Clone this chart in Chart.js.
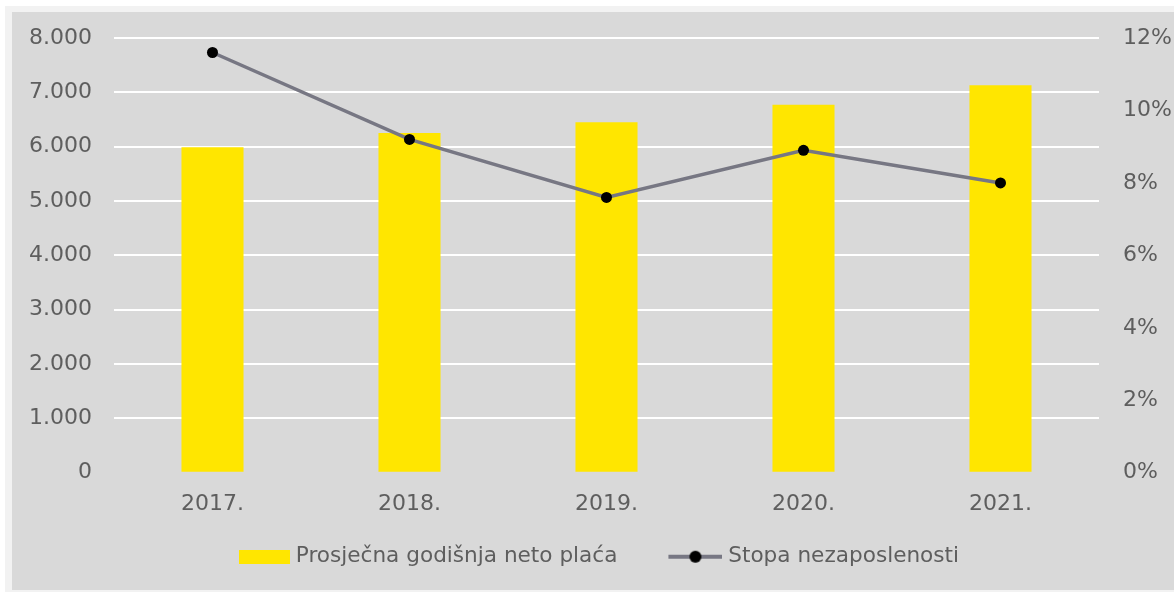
<!DOCTYPE html>
<html>
<head>
<meta charset="utf-8">
<script src="https://cdn.jsdelivr.net/npm/chart.js@4/dist/chart.umd.min.js"></script>
<style>
  html, body { margin: 0; padding: 0; background: #ffffff; }
  #outer { position: absolute; left: 5px; top: 6px; width: 1169px; height: 586px; background: #f2f2f2; }
  #wrap { position: absolute; left: 12px; top: 12px; width: 1162px; height: 578px; background: #d9d9d9; }
</style>
</head>
<body>
<div id="outer"></div>
<div id="wrap"><canvas id="c" width="1162" height="578"></canvas></div>
<script>
const categories = ['2017.', '2018.', '2019.', '2020.', '2021.'];
const salaryValues = [5990, 6250, 6450, 6770, 7130];
const unemploymentValues = [11.6, 9.2, 7.6, 8.9, 8.0];
const salaryLabel = 'Prosječna godišnja neto plaća';
const unemploymentLabel = 'Stopa nezaposlenosti';

const YELLOW = '#FFE600';
const LINEGRAY = '#777783';
const TEXT = '#5e5e5e';
const TICKFONT = { family: '"DejaVu Sans", sans-serif', size: 22 };
const YTICKFONT = { family: '"DejaVu Sans", sans-serif', size: 22, lineHeight: 0.1 };
const LEGENDFONT = { family: '"DejaVu Sans", sans-serif', size: 21.6 };
const MARKER_W = 90;
const MARKER_CANVAS_W = 100;

function makeBox() {
  const c = document.createElement('canvas');
  c.width = MARKER_CANVAS_W; c.height = 14;
  const x = c.getContext('2d');
  x.fillStyle = YELLOW; x.fillRect(MARKER_CANVAS_W - 51, 0, 51, 14);
  return c;
}
function makeLineMarker() {
  const c = document.createElement('canvas');
  c.width = MARKER_CANVAS_W; c.height = 14;
  const x = c.getContext('2d');
  const s = MARKER_CANVAS_W - 54;
  x.strokeStyle = LINEGRAY; x.lineWidth = 4;
  x.beginPath(); x.moveTo(s, 7); x.lineTo(MARKER_CANVAS_W, 7); x.stroke();
  x.fillStyle = '#000'; x.beginPath(); x.arc(s + 27, 7, 6, 0, Math.PI * 2); x.fill();
  return c;
}
const boxImg = makeBox();
const lineImg = makeLineMarker();

new Chart(document.getElementById('c'), {
  data: {
    labels: categories,
    datasets: [
      {
        type: 'line',
        label: unemploymentLabel,
        data: unemploymentValues,
        yAxisID: 'y1',
        borderColor: LINEGRAY,
        borderWidth: 3.5,
        pointBackgroundColor: '#000',
        pointBorderColor: '#000',
        pointRadius: 5.5,
        pointBorderWidth: 0,
        tension: 0,
        order: 0
      },
      {
        type: 'bar',
        label: salaryLabel,
        data: salaryValues,
        yAxisID: 'y',
        backgroundColor: YELLOW,
        categoryPercentage: 1,
        barPercentage: 0.315,
        order: 1
      }
    ]
  },
  options: {
    responsive: false,
    animation: false,
    layout: { padding: { top: 26, left: -32, right: 0, bottom: 12.5 } },
    plugins: {
      tooltip: { enabled: false },
      legend: {
        position: 'bottom',
        labels: {
          color: TEXT,
          font: LEGENDFONT,
          usePointStyle: true,
          pointStyleWidth: MARKER_W,
          padding: 10,
          generateLabels: (chart) => [
            { text: salaryLabel, pointStyle: boxImg, fillStyle: YELLOW, strokeStyle: 'transparent', lineWidth: 0, datasetIndex: 1, fontColor: TEXT },
            { text: unemploymentLabel, pointStyle: lineImg, fillStyle: '#000', strokeStyle: 'transparent', lineWidth: 0, datasetIndex: 0, fontColor: TEXT }
          ]
        }
      }
    },
    scales: {
      x: {
        grid: { display: false },
        border: { display: false },
        ticks: { color: TEXT, font: TICKFONT, padding: 10 },
        afterFit: (s) => { s.height = 63.2; }
      },
      y: {
        position: 'left',
        min: 0, max: 8000,
        grid: { color: (ctx) => ctx.tick && ctx.tick.value === 0 ? 'rgba(0,0,0,0)' : '#ffffff', lineWidth: 2, drawTicks: false },
        border: { display: false },
        ticks: {
          stepSize: 1000, color: TEXT, font: YTICKFONT, padding: 22,
          callback: (v) => v === 0 ? '0' : (v / 1000).toFixed(0) + '.000'
        },
        afterFit: (s) => { s.width = 134; }
      },
      y1: {
        position: 'right',
        min: 0, max: 12,
        grid: { display: false, drawTicks: false },
        border: { display: false },
        ticks: {
          stepSize: 2, color: TEXT, font: YTICKFONT, padding: 24,
          callback: (v) => v + '%'
        },
        afterFit: (s) => { s.width = 75; }
      }
    }
  }
});
</script>
</body>
</html>
